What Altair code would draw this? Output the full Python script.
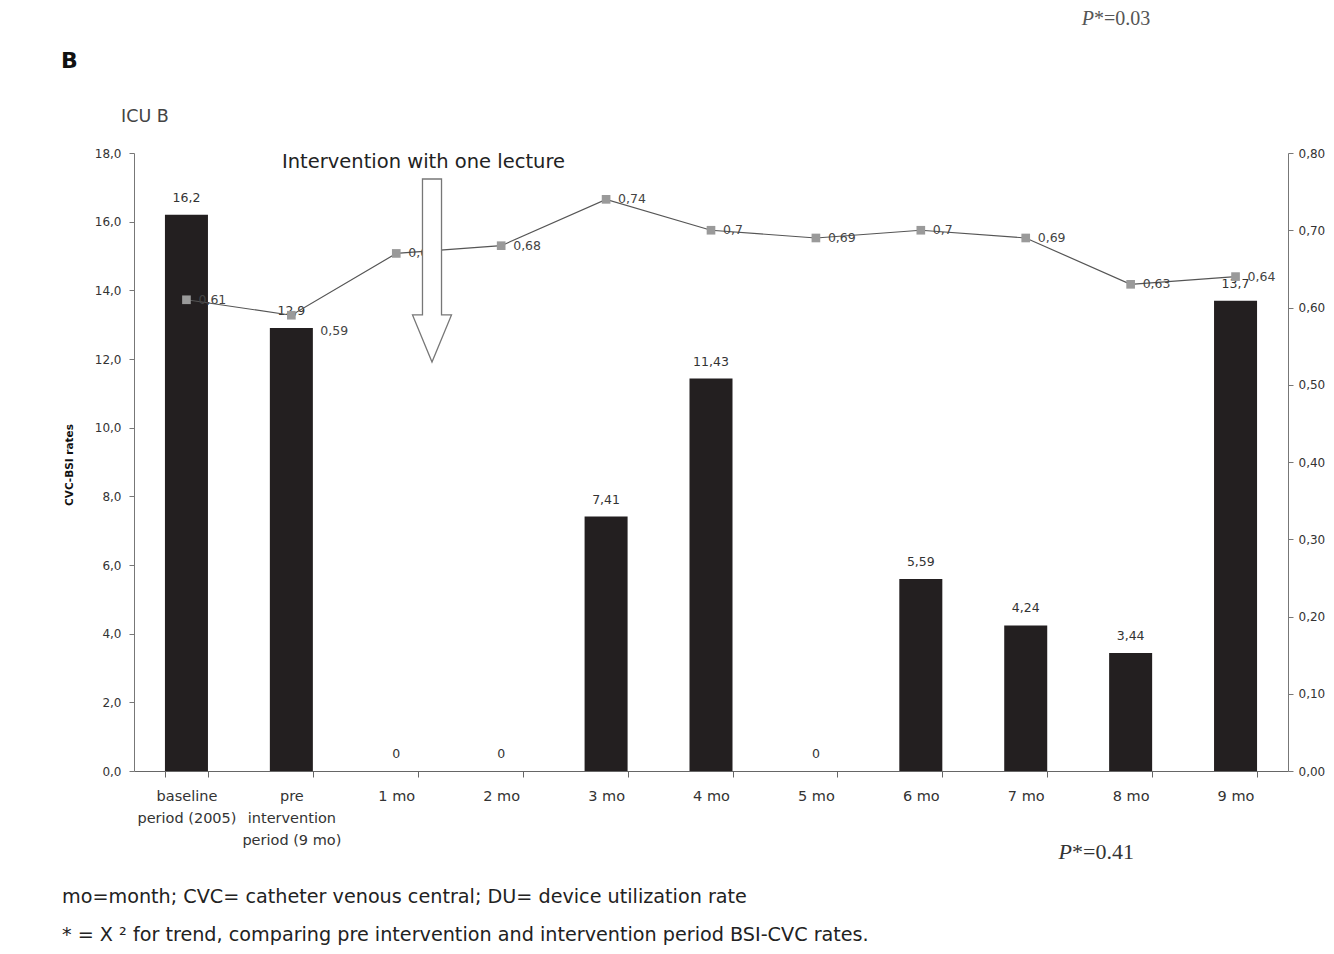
import altair as alt
import pandas as pd

categories = ["baseline|period (2005)", "pre|intervention|period (9 mo)", "1 mo", "2 mo",
              "3 mo", "4 mo", "5 mo", "6 mo", "7 mo", "8 mo", "9 mo"]
bsi_rates = [16.2, 12.9, 0, 0, 7.41, 11.43, 0, 5.59, 4.24, 3.44, 13.7]
bsi_labels = ["16,2", "12,9", "0", "0", "7,41", "11,43", "0", "5,59", "4,24", "3,44", "13,7"]
du_rates = [0.61, 0.59, 0.67, 0.68, 0.74, 0.70, 0.69, 0.70, 0.69, 0.63, 0.64]
du_labels = ["0,61", "0,59", "0,67", "0,68", "0,74", "0,7", "0,69", "0,7", "0,69", "0,63", "0,64"]
left_ticks = [0, 2, 4, 6, 8, 10, 12, 14, 16, 18]
right_ticks = [0, 0.1, 0.2, 0.3, 0.4, 0.5, 0.6, 0.7, 0.8]

df = pd.DataFrame({"cat": categories, "bsi": bsi_rates, "bsi_lab": bsi_labels,
                   "du": du_rates, "du_lab": du_labels})

FONT = "DejaVu Sans"
W, H = 1154, 618

xenc = alt.X("cat:N", sort=categories, title=None,
             scale=alt.Scale(paddingInner=0.59, paddingOuter=0.295),
             axis=alt.Axis(labelExpr="split(datum.label, '|')", labelAngle=0,
                           labelFontSize=14.5, labelColor="#333", labelFont=FONT,
                           labelLineHeight=22, labelPadding=12, labelBaseline="top",
                           tickBand="extent", tickSize=6, tickColor="#666",
                           domainColor="#666", labelLimit=200))

yleft = alt.Y("bsi:Q", title=None,
              scale=alt.Scale(domain=[0, 18]),
              axis=alt.Axis(values=left_ticks, grid=False,
                            labelExpr="replace(format(datum.value, '.1f'), '.', ',')",
                            labelFontSize=12, labelColor="#333", labelFont=FONT,
                            tickSize=5, tickColor="#777", domainColor="#777", labelPadding=8))

bars = alt.Chart(df).mark_bar(color="#231f20").encode(x=xenc, y=yleft)
bar_text = alt.Chart(df).mark_text(dy=-17, fontSize=12.5, color="#333", font=FONT,
                                   baseline="middle").encode(
    x=alt.X("cat:N", sort=categories), y=alt.Y("bsi:Q", scale=alt.Scale(domain=[0, 18])),
    text="bsi_lab:N")
left_layer = alt.layer(bars, bar_text)

yright_axis = alt.Y("du:Q", title=None, scale=alt.Scale(domain=[0, 0.8]),
                    axis=alt.Axis(orient="right", values=right_ticks, grid=False,
                                  labelExpr="replace(format(datum.value, '.2f'), '.', ',')",
                                  labelFontSize=12, labelColor="#333", labelFont=FONT,
                                  tickSize=5, tickColor="#777", domainColor="#777",
                                  labelPadding=5))
yright = alt.Y("du:Q", scale=alt.Scale(domain=[0, 0.8]))
xplain = alt.X("cat:N", sort=categories)

du_line = alt.Chart(df).mark_line(color="#555", strokeWidth=1.2).encode(x=xplain, y=yright_axis)
du_pts = alt.Chart(df).mark_point(shape="square", filled=True, color="#9a9a9a",
                                  size=75, opacity=1).encode(x=xplain, y=yright)
du_text = alt.Chart(df).transform_filter(alt.datum.du_lab != "0,59").mark_text(
    dx=12, align="left", baseline="middle", fontSize=12.5, color="#444", font=FONT).encode(
    x=xplain, y=yright, text="du_lab:N")
du_text2 = alt.Chart(df).transform_filter(alt.datum.du_lab == "0,59").mark_text(
    dx=29, dy=16, align="left", baseline="middle", fontSize=12.5, color="#444", font=FONT).encode(
    x=xplain, y=yright, text="du_lab:N")
right_layer = alt.layer(du_line, du_pts, du_text, du_text2)

arrow_path = "M -0.104 -1 L 0.104 -1 L 0.104 0.486 L 0.213 0.486 L 0 1 L -0.213 0.486 L -0.104 0.486 Z"
arrow = alt.Chart(pd.DataFrame({"a": [1]})).mark_point(
    shape=arrow_path, filled=True, fill="white", stroke="#777", strokeWidth=1.3,
    size=33489, opacity=1, fillOpacity=1, strokeOpacity=1).encode(
    x=alt.value(298), y=alt.value(117.5))


def label(text, x, y, size, color="#222", weight="normal", font=FONT, align="left",
          angle=0, style="normal"):
    kw = dict(align=align, baseline="middle", fontSize=size, color=color,
              fontWeight=weight, font=font, fontStyle=style)
    if angle:
        kw["angle"] = angle
    return alt.Chart(pd.DataFrame({"t": [text]})).mark_text(**kw).encode(
        x=alt.value(x), y=alt.value(y), text="t:N")


annots = [
    label("B", -73, -92, 22, color="#111", weight="bold"),
    label("ICU B", -13, -36, 17.5, color="#444"),
    label("Intervention with one lecture", 148, 9, 19.5, color="#222"),
    label("CVC-BSI rates", -64, 312, 10.5, color="#111", weight="bold", align="center", angle=270),
    label("P", 938, 699, 22, color="#333", font="Liberation Serif", align="right", style="italic"),
    label("*=0.41", 938, 699, 22, color="#333", font="Liberation Serif"),
    label("P", 960, -134, 20, color="#555", font="Liberation Serif", align="right", style="italic"),
    label("*=0.03", 960, -134, 20, color="#555", font="Liberation Serif"),
    label("mo=month; CVC= catheter venous central; DU= device utilization rate", -72, 744, 19.2),
    label("* = X ² for trend, comparing pre intervention and intervention period BSI-CVC rates.",
          -72, 782, 19.2),
]

chart = alt.layer(left_layer, right_layer, arrow, *annots).resolve_scale(
    y="independent").properties(
    width=W, height=H,
    autosize=alt.AutoSizeParams(type="none"),
    padding={"left": 126, "top": 145, "right": 38, "bottom": 175},
    background="white",
).configure_view(strokeWidth=0)

chart.save("out.html", embed_options={"renderer": "svg", "actions": False})
